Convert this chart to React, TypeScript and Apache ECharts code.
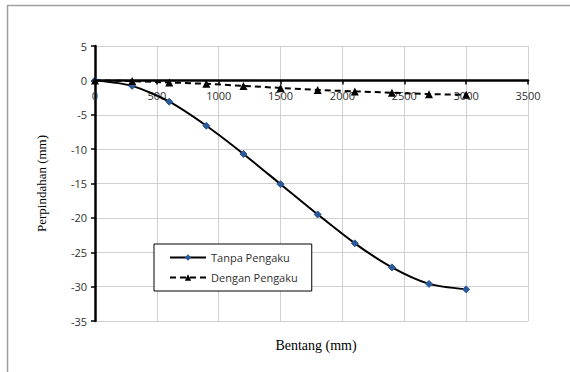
import React, { useEffect, useRef } from "react";
import * as echarts from "echarts";

const bentang = [0, 300, 600, 900, 1200, 1500, 1800, 2100, 2400, 2700, 3000];
const tanpaPengaku = [0, -0.8, -3.1, -6.6, -10.7, -15.1, -19.5, -23.7, -27.2, -29.6, -30.4];
const denganPengaku = [0, -0.1, -0.3, -0.5, -0.8, -1.1, -1.4, -1.6, -1.8, -2.0, -2.1];
const seriesNames = ["Tanpa Pengaku", "Dengan Pengaku"];

export default function App() {
  const ref = useRef<HTMLDivElement>(null);
  useEffect(() => {
    const chart = echarts.init(ref.current!, null, { renderer: "svg" });
    const tickFont = { fontFamily: "Open Sans", fontSize: 11, color: "#303030" };
    chart.setOption({
      animation: false,
      backgroundColor: "#fff",
      grid: { left: 95, right: 42, top: 46, bottom: 51 },
      legend: {
        orient: "vertical",
        left: 154,
        top: 244,
        itemWidth: 36,
        itemHeight: 8,
        itemGap: 9,
        padding: [8, 14, 8, 15],
        borderColor: "#000",
        borderWidth: 1,
        backgroundColor: "#fff",
        textStyle: { fontFamily: "Open Sans", fontSize: 11, color: "#303030" },
        data: seriesNames,
      },
      xAxis: {
        type: "value",
        min: 0,
        max: 3500,
        interval: 500,
        axisLine: { onZero: true, lineStyle: { color: "#000", width: 2.5 } },
        axisTick: { show: true, inside: false, length: 4, lineStyle: { color: "#000", width: 1.5 } },
        axisLabel: { ...tickFont, margin: -231, formatter: (v: number) => String(v) },
        splitLine: { show: true, lineStyle: { color: "#d0d0d0", width: 1 } },
      },
      yAxis: {
        type: "value",
        min: -35,
        max: 5,
        interval: 5,
        name: "Perpindahan (mm)",
        nameLocation: "middle",
        nameGap: 47,
        nameTextStyle: { fontFamily: "Liberation Serif", fontSize: 13, color: "#000" },
        axisLine: { show: true, onZero: false, lineStyle: { color: "#000", width: 2.5 } },
        axisTick: { show: true, length: 4, lineStyle: { color: "#000", width: 1.5 } },
        axisLabel: { ...tickFont, margin: 8 },
        splitLine: { show: true, lineStyle: { color: "#d0d0d0", width: 1 } },
      },
      graphic: [
        {
          type: "rect",
          shape: { x: 7.5, y: 5.5, width: 600, height: 400 },
          style: { fill: "none", stroke: "#a0a0a0", lineWidth: 1.5 },
          z: -1,
        },
        {
          type: "text",
          x: 316,
          y: 345,
          style: {
            text: "Bentang (mm)",
            fontFamily: "Liberation Serif",
            fontSize: 14,
            fill: "#000",
            align: "center",
            verticalAlign: "middle",
          },
        },
      ],
      series: [
        {
          name: seriesNames[0],
          type: "line",
          smooth: 0.25,
          data: bentang.map((x, i) => [x, tanpaPengaku[i]]),
          lineStyle: { color: "#000", width: 2 },
          symbol: "diamond",
          symbolSize: 7,
          itemStyle: { color: "#2a5a9a", borderColor: "#2a5a9a" },
          z: 3,
        },
        {
          name: seriesNames[1],
          type: "line",
          data: bentang.map((x, i) => [x, denganPengaku[i]]),
          lineStyle: { color: "#000", width: 2, type: [6, 4] },
          symbol: "triangle",
          symbolSize: 8,
          itemStyle: { color: "#000" },
          z: 4,
        },
      ],
    });
    return () => chart.dispose();
  }, []);
  return (
    <div
      ref={ref}
      style={{ position: "fixed", left: 0, top: 0, width: 570, height: 372 }}
    />
  );
}
